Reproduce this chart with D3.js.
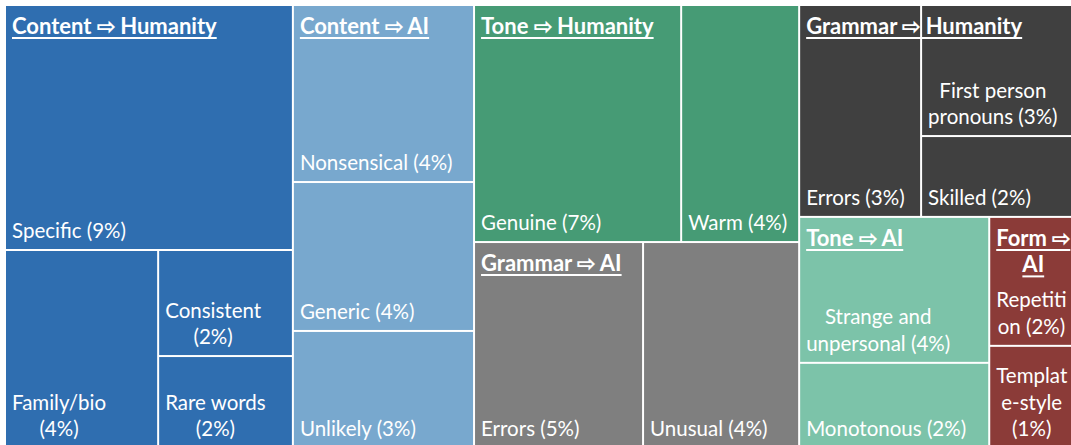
<!DOCTYPE html>
<html><head><meta charset="utf-8">
<script src="https://cdn.jsdelivr.net/npm/d3@7"></script>
<style>html,body{margin:0;padding:0;background:#fff;overflow:hidden}</style>
</head><body>
<svg id="chart" width="1071" height="445"></svg>
<script>
const groups = ["Content ⇨ Humanity", "Content ⇨ AI", "Tone ⇨ Humanity", "Grammar ⇨ AI", "Grammar ⇨ Humanity", "Tone ⇨ AI", "Form ⇨\nAI"];
const groupColors = ["#2F6EB0", "#78A8CE", "#469B75", "#7F7F7F", "#404040", "#7CC3A9", "#8B3B38"];
const leafLabels = ["Specific (9%)", "Family/bio\n(4%)", "Consistent\n(2%)", "Rare words\n(2%)",
  "Nonsensical (4%)", "Generic (4%)", "Unlikely (3%)",
  "Genuine (7%)", "Warm (4%)",
  "Errors (5%)", "Unusual (4%)",
  "Errors (3%)", "First person\npronouns (3%)", "Skilled (2%)",
  "Strange and\nunpersonal (4%)", "Monotonous (2%)",
  "Repetiti\non (2%)", "Templat\ne-style\n(1%)"];
const leafValues = [9.28, 3.99, 1.88, 1.63, 4.22, 3.55, 2.79, 6.46, 3.68, 4.58, 4.23, 3.40, 2.74, 1.69, 3.65, 2.13, 1.54, 1.22];
const leafGroup = [0,0,0,0,1,1,1,2,2,3,3,4,4,4,5,5,6,6];

// arrangement of tiles: "h" = side by side, "v" = stacked
const rootSpec = ["h", 0, 1, ["v", 2, 3], ["v", 4, ["h", 5, 6]]];
const groupSpecs = [
  ["v", 0, ["h", 1, ["v", 2, 3]]],
  ["v", 0, 1, 2],
  ["h", 0, 1],
  ["h", 0, 1],
  ["h", 0, ["v", 1, 2]],
  ["v", 0, 1],
  ["v", 0, 1]
];

const data = {name: "root", children: groups.map((g, gi) => ({
  name: g, index: gi,
  children: leafLabels.map((l, i) => ({name: l, value: leafValues[i], g: leafGroup[i]})).filter(d => d.g === gi)
}))};

function sumOf(item, children) {
  if (typeof item === "number") return children[item].value;
  return item.slice(1).reduce((s, it) => s + sumOf(it, children), 0);
}
function place(spec, children, x0, y0, x1, y1) {
  const dir = spec[0], items = spec.slice(1);
  const total = items.reduce((s, it) => s + sumOf(it, children), 0);
  let pos = dir === "h" ? x0 : y0;
  items.forEach(it => {
    const frac = sumOf(it, children) / total;
    let a0, b0, a1, b1;
    if (dir === "h") { const w = (x1 - x0) * frac; a0 = pos; a1 = pos + w; b0 = y0; b1 = y1; pos += w; }
    else { const h = (y1 - y0) * frac; a0 = x0; a1 = x1; b0 = pos; b1 = pos + h; pos += h; }
    if (typeof it === "number") Object.assign(children[it], {x0: a0, x1: a1, y0: b0, y1: b1});
    else place(it, children, a0, b0, a1, b1);
  });
}
function tile(node, x0, y0, x1, y1) {
  const spec = node.depth === 0 ? rootSpec : groupSpecs[node.data.index];
  place(spec, node.children, x0, y0, x1, y1);
}

const root = d3.hierarchy(data).sum(d => d.value || 0);
d3.treemap().tile(tile).size([1075, 443]).round(false)(root);

const svg = d3.select("#chart");
const g = svg.append("g").attr("transform", "translate(5,5)");
const FONT = "Lato, 'Open Sans', sans-serif";
const LH = 26.5;

const leaves = root.leaves();
g.selectAll("rect.leaf").data(leaves).join("rect")
  .attr("class", "leaf")
  .attr("x", d => d.x0 + 1).attr("y", d => d.y0 + 1)
  .attr("width", d => Math.max(0, d.x1 - d.x0 - 2))
  .attr("height", d => Math.max(0, d.y1 - d.y0 - 2))
  .attr("fill", d => groupColors[d.parent.data.index]);

function drawBlock(sel, lines, x, yFirst, size, weight, underline) {
  const t = sel.append("g");
  const texts = lines.map((ln, i) => t.append("text")
    .attr("y", yFirst + i * LH)
    .attr("font-family", FONT).attr("font-size", size).attr("font-weight", weight)
    .attr("fill", "#fff").text(ln));
  const widths = texts.map(tx => tx.node().getComputedTextLength());
  const bw = Math.max(...widths);
  texts.forEach((tx, i) => {
    const lx = x + (bw - widths[i]) / 2;
    tx.attr("x", lx);
    if (underline) {
      t.append("line").attr("x1", lx).attr("x2", lx + widths[i])
        .attr("y1", yFirst + i * LH + 4).attr("y2", yFirst + i * LH + 4)
        .attr("stroke", "#fff").attr("stroke-width", 2);
    }
  });
}

leaves.forEach(d => {
  const lines = d.data.name.split("\n");
  const yLast = d.y1 - 12;
  drawBlock(g, lines, d.x0 + 7, yLast - (lines.length - 1) * LH, 20.5, 400, false);
});

root.children.forEach(d => {
  const lines = d.data.name.split("\n");
  drawBlock(g, lines, d.x0 + 7, d.y0 + 29, 22, 700, true);
});
</script>
</body></html>
